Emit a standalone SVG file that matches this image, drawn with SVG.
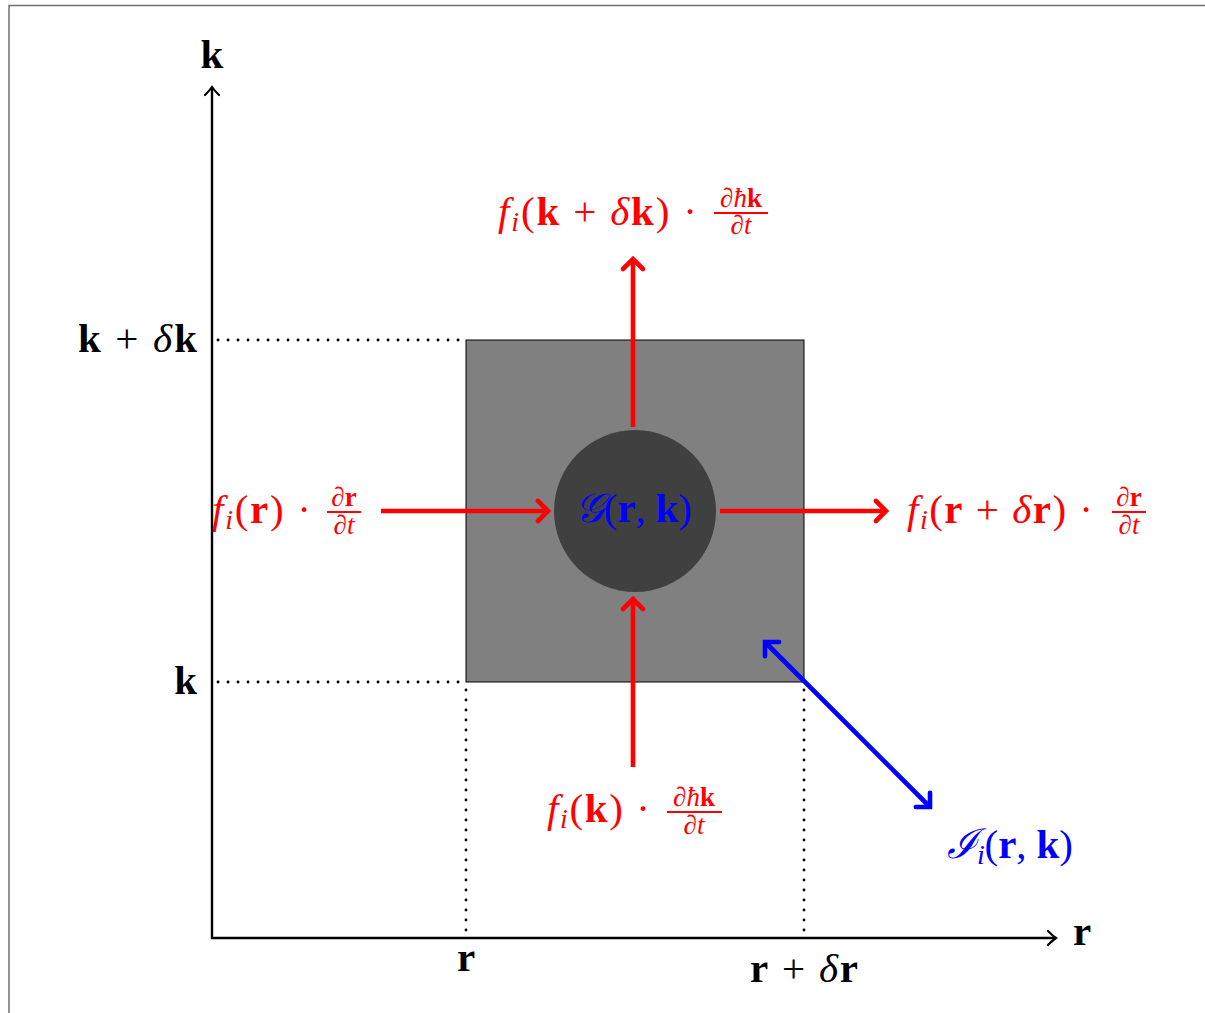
<svg xmlns="http://www.w3.org/2000/svg" width="1205" height="1013" viewBox="0 0 1205 1013">
<defs>
<style>
text{font-family:"Liberation Serif","DejaVu Serif",serif;font-size:41px}
.red{fill:#ff0000}
.blue{fill:#0000ff}
.blk{fill:#000}
.b{font-weight:bold}
.i{font-style:italic}
.fr{font-size:27px}
.ax{stroke:#000;stroke-width:2.4;fill:none}
.dot{stroke:#000;stroke-width:2.8;stroke-dasharray:0.1 9.9;stroke-linecap:round;fill:none}
.ra{stroke:#ff0000;stroke-width:4.6;fill:none}
.ba{stroke:#0000ff;stroke-width:4.6;fill:none}
.bar{stroke:#ff0000;stroke-width:2.2}
</style>
<marker id="ah" markerUnits="userSpaceOnUse" markerWidth="20" markerHeight="20" viewBox="-12 -10 14 20" refX="0" refY="0" orient="auto">
<path d="M-8,-7 Q-3,-2 0,0 Q-3,2 -8,7" stroke="#000" stroke-width="2.2" fill="none" stroke-linecap="round"/>
</marker>
<marker id="rh" markerUnits="userSpaceOnUse" markerWidth="30" markerHeight="30" viewBox="-15 -15 20 30" refX="0" refY="0" orient="auto">
<path d="M-10,-10 L0,0 L-10,10" stroke="#ff0000" stroke-width="4.6" fill="none" stroke-linecap="round"/>
</marker>
<marker id="bh" markerUnits="userSpaceOnUse" markerWidth="30" markerHeight="30" viewBox="-15 -15 20 30" refX="0" refY="0" orient="auto-start-reverse">
<path d="M-10,-10 L0,0 L-10,10" stroke="#0000ff" stroke-width="4.6" fill="none" stroke-linecap="round"/>
</marker>
</defs>
<rect x="0" y="0" width="1205" height="1013" fill="#fff"/>
<path d="M9,1013 V5.5 H1205" stroke="#707070" stroke-width="1.5" fill="none"/>

<g id="cell">
<rect x="466" y="340" width="338" height="342" fill="#808080" stroke="#000" stroke-width="1"/>
</g>
<g id="core">
<circle cx="635" cy="511" r="81" fill="#404040"/>
<text x="575" y="522" textLength="117" lengthAdjust="spacing" class="blue"><tspan class="i">𝒢</tspan>(<tspan class="b">r</tspan>, <tspan class="b">k</tspan>)</text>
</g>

<g id="connectors">
<line class="ax" x1="212" y1="939" x2="212" y2="87" marker-end="url(#ah)"/>
<line class="ax" x1="211" y1="938" x2="1056" y2="938" marker-end="url(#ah)"/>
<line class="dot" x1="218" y1="340" x2="466" y2="340"/>
<line class="dot" x1="218" y1="682" x2="466" y2="682"/>
<line class="dot" x1="466" y1="690" x2="466" y2="938"/>
<line class="dot" x1="804" y1="690" x2="804" y2="938"/>
<line class="ra" x1="381" y1="511" x2="548" y2="511" marker-end="url(#rh)"/>
<line class="ra" x1="720" y1="511" x2="886" y2="511" marker-end="url(#rh)"/>
<line class="ra" x1="633" y1="427" x2="633" y2="259" marker-end="url(#rh)"/>
<line class="ra" x1="633" y1="767" x2="633" y2="599" marker-end="url(#rh)"/>
<line class="ba" x1="765" y1="642" x2="930" y2="807" marker-start="url(#bh)" marker-end="url(#bh)"/>
</g>

<g id="axis-labels" class="blk">
<text x="212" y="68" text-anchor="middle" class="b">k</text>
<text x="1073" y="945" class="b">r</text>
<text x="78" y="352" textLength="119" lengthAdjust="spacing"><tspan class="b">k</tspan> + <tspan class="i">δ</tspan><tspan class="b">k</tspan></text>
<text x="197" y="694" text-anchor="end" class="b">k</text>
<text x="466" y="971" text-anchor="middle" class="b">r</text>
<text x="750" y="982" textLength="108" lengthAdjust="spacing"><tspan class="b">r</tspan> + <tspan class="i">δ</tspan><tspan class="b">r</tspan></text>
</g>

<g id="flux-top" class="red">
<text x="498" y="225" textLength="199" lengthAdjust="spacing"><tspan class="i">f</tspan><tspan class="i" font-size="28" dy="6">i</tspan><tspan dy="-6">(</tspan><tspan class="b">k</tspan> + <tspan class="i">δ</tspan><tspan class="b">k</tspan>) ·</text>
<text x="741" y="207" text-anchor="middle" class="fr">∂<tspan class="i">ħ</tspan><tspan class="b">k</tspan></text>
<line class="bar" x1="714" y1="213" x2="768" y2="213"/>
<text x="741" y="234" text-anchor="middle" class="fr">∂<tspan class="i">t</tspan></text>
</g>

<g id="flux-left" class="red">
<text x="212" y="523" textLength="99" lengthAdjust="spacing"><tspan class="i">f</tspan><tspan class="i" font-size="28" dy="6">i</tspan><tspan dy="-6">(</tspan><tspan class="b">r</tspan>) ·</text>
<text x="344" y="506" text-anchor="middle" class="fr">∂<tspan class="b">r</tspan></text>
<line class="bar" x1="327" y1="512" x2="361" y2="512"/>
<text x="344" y="534" text-anchor="middle" class="fr">∂<tspan class="i">t</tspan></text>
</g>

<g id="flux-right" class="red">
<text x="907" y="523" textLength="186" lengthAdjust="spacing"><tspan class="i">f</tspan><tspan class="i" font-size="28" dy="6">i</tspan><tspan dy="-6">(</tspan><tspan class="b">r</tspan> + <tspan class="i">δ</tspan><tspan class="b">r</tspan>) ·</text>
<text x="1129" y="506" text-anchor="middle" class="fr">∂<tspan class="b">r</tspan></text>
<line class="bar" x1="1112" y1="512" x2="1146" y2="512"/>
<text x="1129" y="534" text-anchor="middle" class="fr">∂<tspan class="i">t</tspan></text>
</g>

<g id="flux-bottom" class="red">
<text x="547" y="822" textLength="103" lengthAdjust="spacing"><tspan class="i">f</tspan><tspan class="i" font-size="28" dy="6">i</tspan><tspan dy="-6">(</tspan><tspan class="b">k</tspan>) ·</text>
<text x="694" y="806" text-anchor="middle" class="fr">∂<tspan class="i">ħ</tspan><tspan class="b">k</tspan></text>
<line class="bar" x1="667" y1="812" x2="722" y2="812"/>
<text x="694" y="834" text-anchor="middle" class="fr">∂<tspan class="i">t</tspan></text>
</g>

<g id="interaction" class="blue">
<text x="947" y="858" textLength="126" lengthAdjust="spacing"><tspan class="i">ℐ</tspan><tspan class="i" font-size="28" dy="6">i</tspan><tspan dy="-6">(</tspan><tspan class="b">r</tspan>, <tspan class="b">k</tspan>)</text>
</g>
</svg>
